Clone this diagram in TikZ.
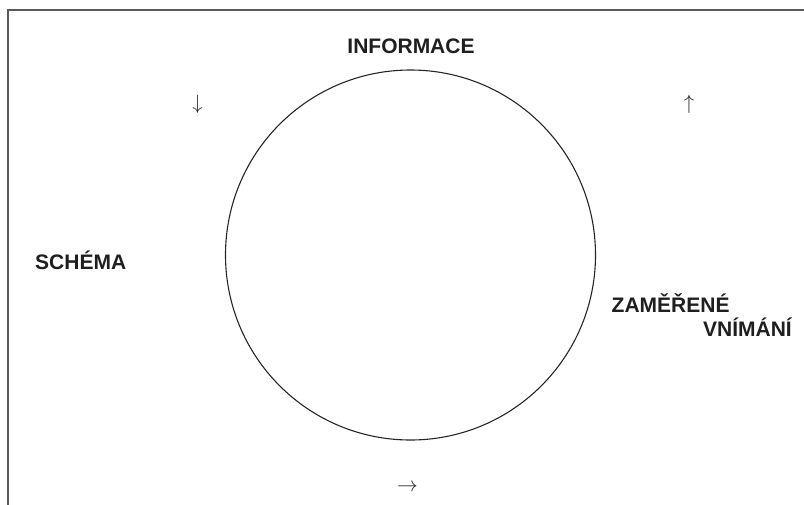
\documentclass[tikz,border=0pt]{standalone}
\usepackage{fontspec}
\setmainfont{Liberation Sans}
\begin{document}
\begin{tikzpicture}[x=1pt,y=-1pt,
  lbl/.style={font=\fontsize{21}{24}\selectfont\bfseries, inner sep=0pt, text=black!88},
  arr/.style={font=\fontsize{21}{24}\selectfont, inner sep=0pt, text=black!85},
  frameline/.style={draw=black!65, line width=1.8pt}]
\useasboundingbox (0,0) rectangle (804,504);
\fill[white] (0,0) rectangle (804,504);
\coordinate (fc) at (8,10);
\coordinate (fb) at (8,505);
\coordinate (fr) at (805,10);
\draw[frameline] (fb) -- (fc) -- (fr);
\node[draw=black!85, line width=1.1pt, circle, minimum size=370pt, inner sep=0pt] (cyc) at (410.5,255) {};
\node[lbl, anchor=base] (info) at (411,53) {INFORMACE};
\node[lbl, anchor=base west] (sch) at (35,269) {SCHÉMA};
\node[lbl, anchor=base west] (zam) at (611.5,312.5) {ZAMĚŘENÉ};
\node[lbl, anchor=base east] (vni) at (792,336) {VNÍMÁNÍ};
\node[arr] (adown) at (197.5,104) {$\downarrow$};
\node[arr] (aup) at (689,104.5) {$\uparrow$};
\node[arr] (aright) at (407.5,488) {$\rightarrow$};
\end{tikzpicture}
\end{document}
